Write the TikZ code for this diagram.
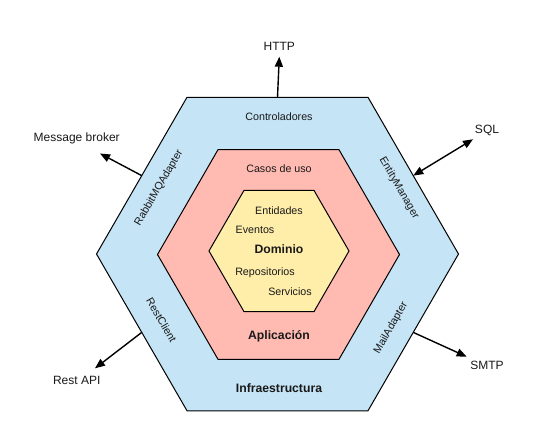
\documentclass[tikz,border=0pt]{standalone}
\usepackage{fontspec}
\setmainfont{Liberation Sans}
\usetikzlibrary{shapes.geometric,arrows.meta}
\definecolor{hexblue}{RGB}{197,228,245}
\definecolor{hexpink}{RGB}{255,186,178}
\definecolor{hexyellow}{RGB}{255,238,170}
\definecolor{txt}{RGB}{25,25,25}
\begin{document}
\begin{tikzpicture}[x=1pt,y=-1pt,
  hexa/.style={regular polygon, regular polygon sides=6, draw=black, line width=1pt, inner sep=0pt, outer sep=0pt},
  small/.style={font=\fontsize{10.7}{12}\selectfont, text=txt, inner sep=0pt},
  big/.style={font=\fontsize{12.2}{14}\selectfont\bfseries, text=txt, inner sep=0pt},
  ext/.style={font=\fontsize{12}{14}\selectfont, text=txt, inner sep=0pt},
  arr/.style={line width=1.4pt, draw=black, -{Triangle[length=10pt,width=8pt]}},
  arrboth/.style={line width=1.4pt, draw=black, {Triangle[length=10pt,width=8pt]}-{Triangle[length=10pt,width=8pt]}},
]
\useasboundingbox (0,0) rectangle (536,445);
\fill[white] (0,0) rectangle (536,445);

\node[hexa, fill=hexblue, minimum size=362pt] (infra) at (277.5,254) {};
\node[hexa, fill=hexpink, minimum size=242pt] (app) at (278.5,254.5) {};
\node[hexa, fill=hexyellow, minimum size=140pt] (dom) at (279,251) {};

% layer labels
\node[small] (ctrl) at (279,116.7) {Controladores};
\node[small] (casos) at (279,169) {Casos de uso};
\node[small] (ent) at (279,210.7) {Entidades};
\node[small] (evt) at (255,230) {Eventos};
\node[big] (domlbl) at (279,249.3) {Dominio};
\node[small] (repo) at (265,272.7) {Repositorios};
\node[small] (serv) at (290,291.3) {Servicios};
\node[big] (applbl) at (279,336.7) {Aplicación};
\node[big] (infralbl) at (279,388.3) {Infraestructura};

\node[small, rotate=60] (rabbit) at (159,188) {RabbitMQAdapter};
\node[small, rotate=-60] (entity) at (399,188) {EntityManager};
\node[small, rotate=-60] (restc) at (161.5,320) {RestClient};
\node[small, rotate=60] (mail) at (391,328) {MailAdapter};

% external systems
\node[ext] (http) at (279.3,46.7) {HTTP};
\node[ext] (broker) at (76.7,138.3) {Message broker};
\node[ext] (sql) at (487,130.7) {SQL};
\node[ext] (restapi) at (76.7,380) {Rest API};
\node[ext] (smtp) at (487,365) {SMTP};

\coordinate (httptip) at (279.3,56.7);
\coordinate (brokertip) at (100,153.5);
\coordinate (sqltip) at (473,139.3);
\coordinate (resttip) at (95,368.3);
\coordinate (smtptip) at (466.7,356.7);

\draw[arr] (infra.90) -- (httptip);
\draw[arr] (infra.150) -- (brokertip);
\draw[arrboth] (infra.30) -- (sqltip);
\draw[arr] (infra.210) -- (resttip);
\draw[arr] (infra.330) -- (smtptip);
\end{tikzpicture}
\end{document}
